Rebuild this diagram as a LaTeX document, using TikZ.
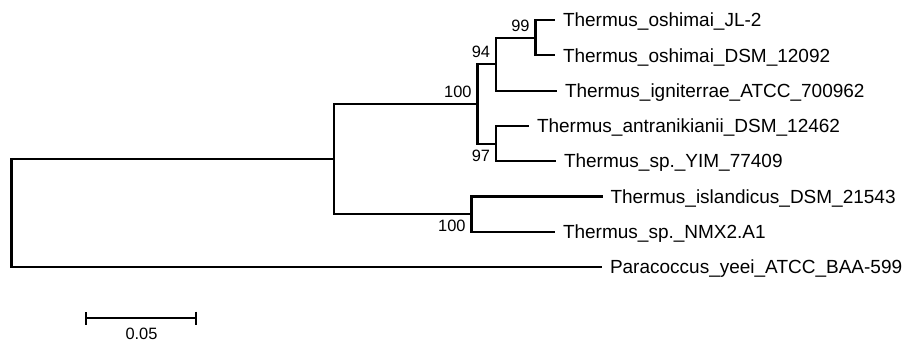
\documentclass[tikz,border=0pt]{standalone}
\usepackage{fontspec}
\setsansfont{Liberation Sans}
\usetikzlibrary{arrows.meta}

\begin{document}
\begin{tikzpicture}[
    x=0.5pt, y=-0.5pt,
    every node/.style={font=\sffamily},
    branch/.style={line width=1.05pt, black},
    leaf/.style={anchor=base west, inner sep=0pt, xshift=3.8pt, yshift=-3.4pt,
        font=\sffamily\fontsize{9.5}{11}\selectfont},
    boot/.style={inner sep=2.8pt, font=\sffamily\fontsize{8.2}{10}\selectfont}
]

\useasboundingbox (0,0) rectangle (905,342);

% --- Internal nodes of the tree ---
\coordinate (root)    at (11.5,213);
\coordinate (thermus) at (334,159);
\coordinate (n100a)   at (477.5,103.9);
\coordinate (n94)     at (496,64.1);
\coordinate (n99)     at (535.5,37.6);
\coordinate (n97)     at (496,143.6);
\coordinate (n100b)   at (471.5,214.2);

% --- Branch tips ---
\coordinate (tJL)   at (555,20);
\coordinate (tDSM)  at (555,55.3);
\coordinate (tIgn)  at (557,90.6);
\coordinate (tAnt)  at (529,125.9);
\coordinate (tYIM)  at (556,161.2);
\coordinate (tIsl)  at (602.5,196.5);
\coordinate (tNMX)  at (555,231.8);
\coordinate (tPara) at (602,267.1);

% --- Branches ---
\draw[branch] (root) |- (thermus);
\draw[branch] (root) |- (tPara);
\draw[branch] (thermus) |- (n100a);
\draw[branch] (thermus) |- (n100b);
\draw[branch] (n100a) |- (n94);
\draw[branch] (n100a) |- (n97);
\draw[branch] (n94) |- (n99);
\draw[branch] (n94) |- (tIgn);
\draw[branch] (n99) |- (tJL);
\draw[branch] (n99) |- (tDSM);
\draw[branch] (n97) |- (tAnt);
\draw[branch] (n97) |- (tYIM);
\draw[branch] (n100b) |- (tIsl);
\draw[branch] (n100b) |- (tNMX);

% --- Taxon labels ---
\node[leaf] (JL)   at (tJL)   {Thermus\_oshimai\_JL-2};
\node[leaf] (DSM)  at (tDSM)  {Thermus\_oshimai\_DSM\_12092};
\node[leaf] (Ign)  at (tIgn)  {Thermus\_igniterrae\_ATCC\_700962};
\node[leaf] (Ant)  at (tAnt)  {Thermus\_antranikianii\_DSM\_12462};
\node[leaf] (YIM)  at (tYIM)  {Thermus\_sp.\_YIM\_77409};
\node[leaf] (Isl)  at (tIsl)  {Thermus\_islandicus\_DSM\_21543};
\node[leaf] (NMX)  at (tNMX)  {Thermus\_sp.\_NMX2.A1};
\node[leaf] (Para) at (tPara) {Paracoccus\_yeei\_ATCC\_BAA-599};

% --- Bootstrap values ---
\node[boot, anchor=south east] (b99)   at (n99)   {99};
\node[boot, anchor=south east] (b94)   at (n94)   {94};
\node[boot, anchor=south east] (b100a) at (n100a) {100};
\node[boot, anchor=north east] (b97)   at (n97)   {97};
\node[boot, anchor=north east] (b100b) at (n100b) {100};

% --- Scale bar ---
\coordinate (sbL) at (85,318);
\coordinate (sbR) at (197,318);
\draw[branch, {Bar[width=6.5pt]}-{Bar[width=6.5pt]}] (sbL) -- (sbR);
\node[boot, inner sep=0pt] (sbLabel) at (141.5,333.5) {0.05};

\end{tikzpicture}
\end{document}
